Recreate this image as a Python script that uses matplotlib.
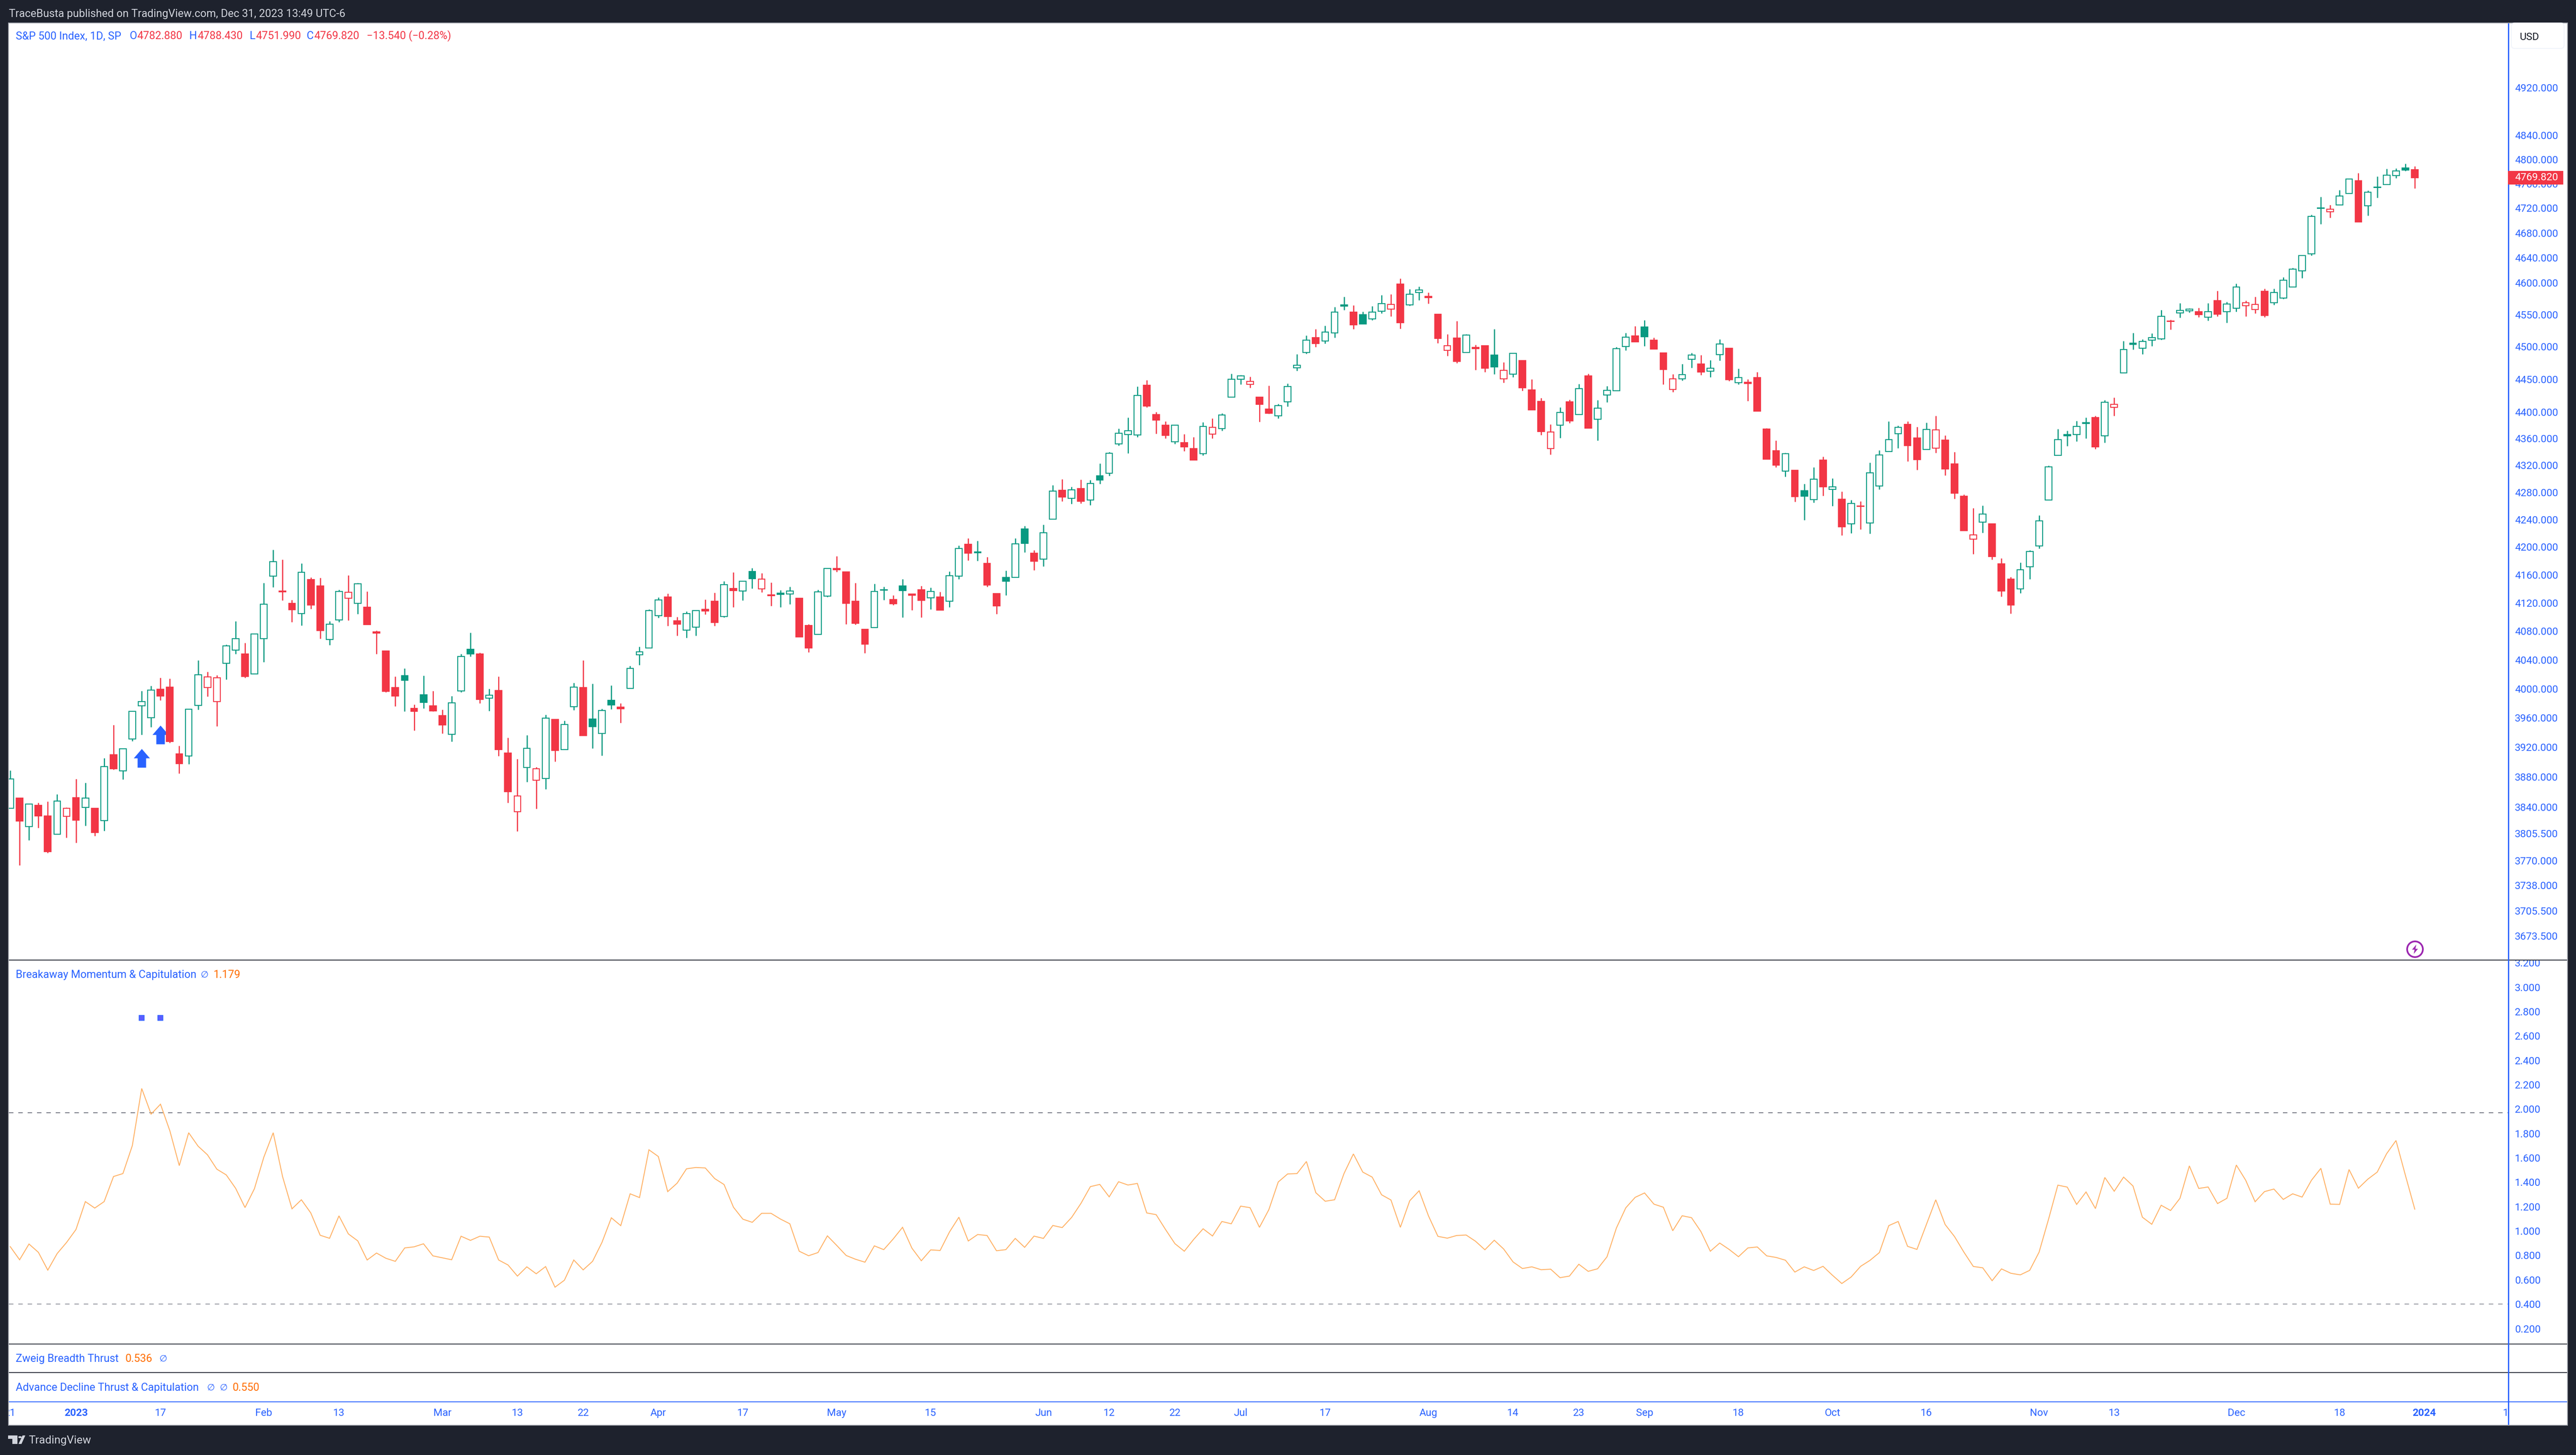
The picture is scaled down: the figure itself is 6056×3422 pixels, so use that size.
import matplotlib
matplotlib.use("Agg")
import matplotlib.pyplot as plt
import numpy as np
from matplotlib.patches import Rectangle, FancyBboxPatch, Polygon, Circle
from matplotlib.path import Path
from matplotlib.transforms import Bbox

opens = [
 3838.6,3852,3814.6,3842.6,3828.5,3804.2,3828,3852.6,3839.7,3838.6,
 3822,3910,3888,3931.3,3976.6,3959.8,3999,4002,3911.2,3908.3,
 3977.2,4001.3,3982,4035.3,4053.2,4048.3,4020,4069.3,4158,4136.7,
 4119.3,4104.7,4153.3,4144,4068,4096,4126.3,4119.3,4114,4078.7,
 4052,4001.3,4018,3972.7,3991.7,3976.6,3962.8,3937.8,3997,4054.4,
 4048,3986.8,3997.6,3912,3834,3893,3875.9,3878.2,3958,3916.6,
 3975,4001.3,3958.6,3938.4,3983.8,3974.6,4000.2,4047,4056.6,4102,
 4128.2,4094.5,4081.4,4085.7,4110.8,4122,4100.7,4140.3,4137,4164.4,
 4139.5,4131.2,4133.6,4132.2,4126.3,4088,4075.3,4129.2,4168.8,4164,
 4122,4082.8,4085,4138.2,4124.4,4143.8,4132.2,4138.5,4126.9,4128.2,
 4122.5,4157.7,4204.2,4192.8,4176.6,4133,4156,4156,4226,4191,
 4182.6,4240.5,4282.7,4270.7,4285.3,4268.5,4304,4308,4352,4365.6,
 4365,4440.6,4395.9,4379.9,4354.7,4353.7,4344.8,4336.9,4366.6,4374.5,
 4422.2,4450,4442,4422.5,4404.4,4394,4415.3,4467.2,4491,4514,
 4508.6,4521.4,4565.3,4553.9,4549.8,4543,4555,4558.4,4598.1,4565.3,
 4584.7,4578.7,4550.6,4494,4513.2,4491,4498.6,4501.5,4487.1,4450.1,
 4457.6,4478.4,4433.6,4416,4345,4380,4415.3,4396,4455,4389,
 4425.9,4432.2,4500.1,4516.7,4530.5,4510.1,4490.4,4434.2,4450.7,4480.4,
 4473.4,4461.9,4487.6,4497.5,4444.3,4445.2,4452.4,4374.2,4341.8,4310.9,
 4312.7,4282.5,4269.2,4327.8,4284,4269.8,4233.7,4259.8,4234.6,4289,
 4340.3,4367,4381.5,4360.5,4343.2,4345.6,4357.3,4321.9,4274.3,4211.2,
 4236.2,4233.3,4176,4153.5,4140,4171.5,4201.6,4268.4,4334.4,4366,
 4366,4382.7,4391.6,4364,4406.7,4459.4,4505.2,4497.6,4510.3,4511.8,
 4540,4552.8,4555.8,4554.8,4545.6,4571.7,4554.8,4559.8,4563.7,4557.7,
 4586.5,4568.6,4576.3,4593.7,4618.8,4646.4,4719.3,4714,4725.1,4744,
 4764.7,4723.4,4753.5,4758.3,4773,4785.6,4782.88]
highs = [
 3888.9,3852,3844.6,3846,3847.5,3857.3,3839.5,3877.5,3872.6,3838.6,
 3905.5,3950,3918.6,3969,3997,4003.7,4014.8,4013.6,3922.1,3971.7,
 4039,4023.4,4018.6,4061,4093.7,4063.2,4076.6,4148.3,4195.7,4181.8,
 4123.9,4176.4,4156,4155.4,4093.7,4138.4,4159.2,4148,4136,4081,
 4052,4017,4028,3978,4018,3997,3971,3990,4048,4078,
 4049.6,3999.5,4016.6,3933,3904.2,3936.6,3893.5,3964,3958,3956,
 4008.2,4039,4007,3972,4004.6,3980,4031.4,4058.4,4110.8,4127.7,
 4133,4100,4107.8,4109.2,4124.4,4134.4,4150.6,4163.3,4151.4,4169.3,
 4162.5,4148.7,4138.2,4142.8,4126.3,4089.7,4138.5,4169.8,4187,4164,
 4148,4082.8,4146.8,4142.8,4130.6,4154,4133.3,4143.8,4141.4,4135.5,
 4164.7,4202.3,4212.6,4209,4185.8,4133,4165.8,4212.6,4230.5,4195.5,
 4232.4,4290.2,4299.4,4287.7,4298.6,4297.7,4322.5,4339.5,4374.7,4391.4,
 4438.6,4448.4,4399.8,4385.7,4380,4366.4,4362,4384.5,4390,4397.9,
 4458.2,4456,4453.6,4422.5,4440,4411.8,4443.4,4488.3,4517.5,4527.3,
 4532.6,4562,4577.9,4564.7,4554.5,4563.4,4580.5,4582,4607,4590.2,
 4594,4584.7,4550.6,4519.2,4540,4519.2,4502.7,4502.1,4527.3,4476,
 4490.1,4478.4,4449.8,4421,4381,4407,4418.5,4442.3,4458,4417.8,
 4439.4,4499.5,4521.4,4532,4541.1,4514,4490.4,4457.7,4473.4,4490.4,
 4487,4478.9,4511.2,4497.5,4466,4449.8,4460.9,4375.3,4356.7,4338.4,
 4312.7,4292,4317,4332.8,4300.7,4281.1,4268.7,4266.7,4324,4342.2,
 4385.7,4379.4,4386,4377.4,4383.8,4394,4364.7,4339.8,4276.6,4256.5,
 4260.3,4233.3,4183.4,4156.7,4177.3,4195.5,4246,4319.5,4374,4371.5,
 4386.2,4391.6,4394,4418,4421.5,4508.7,4521.4,4511.4,4520.4,4557,
 4542,4567.8,4560,4560.6,4567.8,4587.5,4569.8,4598.8,4571.7,4578.2,
 4591,4591,4608.6,4623.6,4643.3,4709,4738.3,4725,4749.4,4768,
 4777.6,4748.4,4771.7,4784,4785.1,4793,4788.43]
lows = [
 3838.6,3763.6,3796.3,3812.6,3780,3804.2,3799.7,3793.3,3815.4,3802,
 3809,3889.8,3876.6,3928.3,3936.8,3947.2,3984,3926,3884.8,3897.3,
 3971,3989.4,3948.4,4012.7,4048.3,4015,4020,4036.8,4142,4123.3,
 4093,4088,4111.5,4069.6,4060.8,4092.6,4095,4104,4089.3,4048,
 3995,3976,3969,3942.8,3973,3969,3938.7,3927.7,3995,4044.7,
 3980,3969.4,3908,3845.8,3808,3873.5,3837.7,3863.7,3900.8,3916.6,
 3970.6,3935.7,3918.3,3908.6,3971.4,3952.9,4000.2,4032.6,4056.6,4099,
 4087.6,4073.5,4070.6,4073.5,4103.3,4087.6,4099.6,4113.5,4123.6,4140.6,
 4135,4115.3,4114,4118.3,4071.6,4050.3,4075.3,4128,4164.2,4090,
 4089.4,4049,4085,4124.2,4117,4099.6,4109.8,4099.6,4111,4109.8,
 4114,4153.9,4180.4,4179.9,4143,4104.4,4130.4,4156,4192.2,4166.6,
 4172,4240.5,4266.8,4263,4263.7,4261,4292,4304,4349,4338,
 4362.3,4407,4367,4360,4351.7,4341,4327.6,4334.6,4360,4371.5,
 4422.2,4442,4436.5,4385.1,4397,4390,4408.4,4463,4489.2,4499.8,
 4505,4514,4557.5,4527.4,4535.4,4541.3,4552,4547.3,4528,4564,
 4572.8,4567,4505.7,4485.5,4474.8,4491,4464.3,4461,4457.5,4444.3,
 4453.3,4432.4,4403.2,4365,4335.6,4360.5,4382.9,4396,4375.7,4356.6,
 4415,4432.2,4494,4507.3,4501,4496,4442,4430.4,4448.1,4467.2,
 4456,4452.9,4478.4,4447.3,4442,4416.8,4401,4329,4316.6,4303,
 4265.7,4239,4264.5,4274.9,4260,4217,4220.2,4225.7,4219.6,4284.3,
 4340.3,4345.2,4325.8,4313.2,4343.2,4338.3,4304.8,4270.5,4223.9,4189.5,
 4220.6,4182,4129,4105,4134,4153.5,4197.8,4268.4,4334.4,4348.5,
 4355.4,4360.2,4344.2,4353.6,4394,4459.4,4495.6,4488.5,4500.7,4510.8,
 4526.4,4545,4553.3,4546,4540.5,4547.2,4537.5,4554.8,4547.2,4551.7,
 4546,4565.4,4574.8,4593.7,4607.4,4643.3,4694,4704.6,4725.1,4744,
 4697.7,4708,4736.8,4758.3,4769,4781,4751.99]
closes = [
 3877.2,3821.4,3844,3828.2,3781.8,3847.8,3838.3,3823,3851.8,3806.8,
 3893.8,3891,3917.7,3969,3982,3998,3989.7,3927.7,3897.9,3971.7,
 4019,4016.2,4015,4059.6,4069.6,4017,4075.7,4118.3,4179,4135.8,
 4110.4,4163.2,4117,4081,4090,4136.4,4135.2,4146.8,4089.3,4077,
 3996,3989.7,4011.6,3969,3981,3969.4,3950.2,3980.5,4044.7,4047.8,
 3985.2,3991,3917,3860.2,3854.8,3918.3,3891,3959.7,3915.7,3950.7,
 4002.2,3935.7,3947.8,3970,3977.8,3972,4028,4051,4109.2,4124,
 4100.4,4090,4105,4109.2,4108.6,4091.9,4146,4137.4,4150.8,4154.4,
 4154,4130,4132,4136.8,4071.6,4056.4,4135.3,4169,4167.4,4119.3,
 4090.7,4061.6,4136.3,4138.8,4118.8,4137.4,4130.4,4123.6,4136.3,4109.8,
 4158.7,4197.6,4191.2,4191.6,4145.5,4115.3,4150.9,4204.5,4205,4179.4,
 4220.3,4281.8,4272.9,4283.2,4266.8,4293,4298,4338,4368,4371.7,
 4425,4408.8,4387.6,4364.5,4380,4347.3,4327.6,4377.8,4376.4,4395.6,
 4450,4455,4446.3,4411.3,4398,4409.2,4438.5,4471.6,4509.8,4504.5,
 4522.5,4554.2,4563.5,4534.2,4535.4,4554.2,4567,4566,4537,4581.7,
 4588.4,4576.4,4513,4501.3,4477.4,4517.8,4497.1,4466.9,4468.4,4463.7,
 4489.5,4437,4403.2,4370,4369.4,4399,4386.6,4435.4,4375.7,4405.5,
 4432.8,4497.2,4514.8,4507.3,4515.3,4496,4465,4450.7,4456.8,4486.9,
 4461.1,4466.9,4504.4,4449.3,4452.6,4443.4,4401,4329,4319.8,4337,
 4273.2,4274,4299.3,4287.8,4288,4229,4263.4,4259,4308.4,4335.4,
 4358.3,4377,4349.5,4328.2,4373.5,4373,4314.4,4278.5,4223.9,4217.3,
 4247.6,4186.1,4136.8,4117,4167,4193.6,4237.7,4317.6,4358.3,4364,
 4377.8,4383.7,4347,4414.6,4411.2,4495.6,4503.2,4508.2,4514.3,4547.2,
 4539,4556.4,4558.7,4550.2,4554.3,4550.7,4566.8,4593.7,4568.7,4566.2,
 4548.7,4585,4604,4622,4643.3,4706.3,4720.4,4718.2,4740,4767.4,
 4697.7,4746,4754.6,4774,4781,4782,4769.82]
prior_close = 3821.6

breakaway = [
 .872,.764,.893,.825,.679,.815,.906,1.012,1.241,1.188,
 1.241,1.447,1.471,1.700,2.169,1.959,2.040,1.821,1.536,1.806,
 1.696,1.625,1.507,1.460,1.350,1.192,1.347,1.605,1.806,1.445,
 1.182,1.256,1.148,.965,.940,1.124,.976,.919,.762,.819,
 .776,.751,.861,.870,.895,.796,.780,.764,.957,.923,
 .957,.950,.762,.721,.630,.706,.649,.708,.539,.596,
 .762,.681,.751,.906,1.108,1.044,1.305,1.274,1.666,1.611,
 1.323,1.392,1.510,1.521,1.517,1.430,1.381,1.195,1.097,1.071,
 1.145,1.145,1.098,1.059,.834,.797,.823,.960,.881,.799,
 .768,.744,.878,.847,.934,1.030,.859,.756,.845,.840,
 .992,1.113,.918,.971,.963,.838,.847,.939,.866,.958,
 .939,1.045,1.028,1.111,1.227,1.364,1.382,1.280,1.404,1.377,
 1.390,1.148,1.134,1.012,.896,.834,.931,1.018,.959,1.078,
 1.059,1.204,1.191,1.030,1.175,1.402,1.468,1.471,1.570,1.314,
 1.244,1.256,1.471,1.632,1.483,1.442,1.297,1.254,1.030,1.248,
 1.330,1.123,.956,.941,.963,.967,.916,.846,.924,.852,
 .746,.692,.706,.682,.687,.617,.630,.727,.669,.690,
 .788,1.024,1.190,1.276,1.312,1.220,1.195,1.002,1.125,1.109,
 .995,.834,.901,.849,.789,.861,.869,.796,.783,.760,
 .663,.706,.676,.710,.637,.569,.623,.710,.759,.823,
 1.044,1.078,.874,.849,1.053,1.256,1.053,.954,.826,.709,
 .698,.592,.689,.653,.640,.677,.826,1.094,1.376,1.360,
 1.218,1.320,1.184,1.439,1.326,1.442,1.369,1.113,1.055,1.211,
 1.168,1.268,1.534,1.349,1.361,1.225,1.268,1.541,1.416,1.240,
 1.323,1.344,1.259,1.305,1.278,1.416,1.514,1.220,1.218,1.504,
 1.351,1.425,1.483,1.634,1.742,1.457,1.179]
thrust_levels = [1.97, 0.40]
signal_index = [14, 16]
signal_level = [2.749, 2.749]
arrow_price = [3905.5, 3937.0]

price_ticks = [4920,4840,4800,4760,4720,4680,4640,4600,4550,4500,4450,4400,4360,4320,4280,4240,
               4200,4160,4120,4080,4040,4000,3960,3920,3880,3840,3805.5,3770,3738,3705.5,3673.5]
osc_ticks = [0.2,0.4,0.6,0.8,1.0,1.2,1.4,1.6,1.8,2.0,2.2,2.4,2.6,2.8,3.0,3.2]
time_index = [0,7,16,27,35,46,54,61,69,78,88,98,110,117,124,131,140,151,160,167,174,184,194,204,216,224,237,248,257,266]
time_labels = ["21","2023","17","Feb","13","Mar","13","22","Apr","17","May","15","Jun","12","22","Jul","17","Aug",
               "14","23","Sep","18","Oct","16","Nov","13","Dec","18","2024","16"]

W, H = 6056, 3422
BG = "#1E222D"; BLUE = "#2962FF"; RED = "#F23645"; GREEN = "#089981"; ORANGE = "#FF6D00"
LINE = "#2A2E39"; LIGHT = "#D1D4DC"
FONT = ["Roboto", "DejaVu Sans"]
px = 0.72  # points per pixel at dpi 100
plt.rcParams["font.family"] = FONT

fig = plt.figure(figsize=(W/100, H/100), dpi=100, facecolor=BG)

def fx(x): return x / W
def fy(y): return 1 - y / H

def add_ax(t, b, l=21, r=5899):
    a = fig.add_axes([fx(l), fy(b), (r - l) / W, (b - t) / H], facecolor="none")
    for s in a.spines.values():
        s.set_visible(False)
    return a

def rect(x0, y0, x1, y1, color, z=10, **kw):
    p = Rectangle((fx(x0), fy(y1)), (x1 - x0) / W, (y1 - y0) / H, transform=fig.transFigure,
                  facecolor=color, edgecolor="none", zorder=z, **kw)
    fig.add_artist(p)
    return p

def label(x, y, s, color, size=18.3, **kw):
    return fig.text(fx(x), fy(y), s, color=color, fontsize=size, va="center", ha=kw.pop("ha", "left"),
                    zorder=20, **kw)

# Chart surface
surf = Rectangle((fx(20), fy(3351.5)), (6035.5 - 20) / W, (3351.5 - 54) / H, transform=fig.transFigure,
                 facecolor="white", edgecolor="#A0A3AB", linewidth=2 * px, zorder=-5)
fig.add_artist(surf)

idx = np.arange(len(closes))
X0, STEP = 24.0, 22.082
xlim = ((21 - X0) / STEP, (5899 - X0) / STEP)

# ---------- price pane ----------
ax = add_ax(54, 2258)
ax.set_yscale("log")
ax.set_xlim(*xlim)
ax.set_ylim(3642.9, 5030.8)

o = np.array(opens); h = np.array(highs); l = np.array(lows); c = np.array(closes)
prev = np.r_[prior_close, c[:-1]]
colors = np.where(c >= prev, GREEN, RED)
hollow = c >= o
ax.vlines(idx, l, h, colors=colors, linewidth=2.7 * px, zorder=3)
body_w = 15.8 / STEP
ax.bar(idx, np.abs(c - o), bottom=np.minimum(o, c), width=body_w,
       facecolor=["white" if f else col for f, col in zip(hollow, colors)],
       edgecolor=colors, linewidth=2.2 * px, zorder=4)

arrow = Path([(-19, 0), (-10, 0), (-10, -22), (10, -22), (10, 0), (19, 0), (0, 22), (-19, 0)], closed=True)
ax.plot(signal_index, arrow_price, ls="none", marker=arrow, ms=44 * px, mfc=BLUE, mec="none", zorder=2)

ring_price = 3657.0
ax.plot([256], [ring_price], ls="none", marker="o", ms=37 * px, mfc="white", mec="#9C27B0", mew=4 * px,
        zorder=6, clip_on=False)
bolt = Path([(3, 11), (-7, -1), (-1, -1), (-3, -11), (7, 1), (1, 1), (3, 11)], closed=True)
ax.plot([256], [ring_price], ls="none", marker=bolt, ms=22 * px, mfc="#9C27B0", mec="none", zorder=7, clip_on=False)

ax.yaxis.tick_right()
ax.set_yticks(price_ticks, labels=[f"{p:.3f}" for p in price_ticks])
ax.set_yticks([], minor=True)
ax.tick_params(axis="y", which="both", length=0, pad=9.5, labelsize=17.5, labelcolor=BLUE)
ax.set_xticks([])

# ---------- oscillator pane ----------
ax2 = add_ax(2258, 3161)
ax2.set_xlim(*xlim)
PX_UNIT = 286.7
ax2.set_ylim(0.2 - (3161 - 3124.5) / PX_UNIT, 0.2 + (3124.5 - 2258) / PX_UNIT)
for lev, dw in zip(thrust_levels, (2.2, 1.5)):
    ax2.axhline(lev, color="#787B86", lw=dw * px, dashes=(10.5 / dw, 11.5 / dw), zorder=1)
ax2.plot(idx, breakaway, color="#FFB062", lw=2.1 * px, solid_joinstyle="miter", zorder=3)
ax2.plot(signal_index, signal_level, ls="none", marker="s", ms=12.5 * px, mfc="#5C5CFF", mec=BLUE, mew=1.5 * px, zorder=4)
ax2.yaxis.tick_right()
ax2.set_yticks(osc_ticks, labels=[f"{v:.3f}" for v in osc_ticks])
ax2.tick_params(axis="y", length=0, pad=9.5, labelsize=17.5, labelcolor=BLUE)
ax2.set_xticks([])
for t in ax2.get_yticklabels():
    t.set_clip_on(True)
    t.set_clip_box(Bbox.from_extents(5899, H - 3161, 6035, H - 2259))

# ---------- empty indicator panes and time scale ----------
ax3 = add_ax(3161, 3228)
ax3.set_xlim(*xlim); ax3.set_xticks([]); ax3.set_yticks([])
ax4 = add_ax(3228, 3297)
ax4.set_xlim(*xlim); ax4.set_yticks([])
ax4.set_xticks(time_index, labels=time_labels)
ax4.tick_params(axis="x", length=0, pad=10.5, labelsize=17.5, labelcolor=BLUE)
for t in ax4.get_xticklabels():
    t.set_clip_on(True)
    t.set_clip_box(Bbox.from_extents(21, H - 3351, 5897, H - 3297))
    if t.get_text() in ("2023", "2024"):
        t.set_fontweight("bold")

# ---------- separators ----------
rect(21, 2256.5, 6035, 2259, LINE)
rect(21, 3160, 6035, 3162, LINE)
rect(21, 3227, 6035, 3229, LINE)
rect(21, 3296, 6035, 3298, BLUE)
rect(5896, 55, 5898.5, 3351, BLUE, z=11)

# ---------- price scale badges ----------
usd = FancyBboxPatch((fx(5912), fy(106)), 108 / W, 44 / H, transform=fig.transFigure,
                     boxstyle="round,pad=0", facecolor="white", edgecolor="#F0F3FA", linewidth=2 * px, zorder=12)
usd.set_boxstyle("round", pad=8 / W, rounding_size=8 / W)
usd.set_mutation_aspect(W / H)
fig.add_artist(usd)
label(5923, 87, "USD", "#131722", size=17.5)
rect(5896, 402, 6026, 434, RED, z=13)
label(5912, 418, f"{closes[-1]:.3f}", "white", size=17.5)

# ---------- header, legends ----------
label(21, 33, "TraceBusta published on TradingView.com, Dec 31, 2023 13:49 UTC-6", LIGHT, size=18.4)
label(37, 85, "S&P 500 Index, 1D, SP", BLUE)
for lx, letter, vx, v in [(304, "O", 322, opens[-1]), (445, "H", 464, highs[-1]),
                          (587, "L", 601, lows[-1]), (721, "C", 738, closes[-1])]:
    label(lx, 85, letter, BLUE)
    label(vx, 85, f"{v:.3f}", RED)
label(862, 85, "−13.540 (−0.28%)", RED)

label(37, 2293, "Breakaway Momentum & Capitulation", BLUE)
label(471, 2293, "∅", BLUE, size=15)
label(502, 2293, f"{breakaway[-1]:.3f}", ORANGE)
label(37, 3196, "Zweig Breadth Thrust", BLUE)
label(295, 3196, "0.536", ORANGE)
label(374, 3196, "∅", BLUE, size=15)
label(37, 3264, "Advance Decline Thrust & Capitulation", BLUE)
label(486, 3264, "∅", BLUE, size=15)
label(516, 3264, "∅", BLUE, size=15)
label(547, 3264, "0.550", ORANGE)

# ---------- footer logo ----------
def poly(pts, color=LIGHT):
    fig.add_artist(Polygon([(fx(x), fy(y)) for x, y in pts], closed=True, transform=fig.transFigure,
                           facecolor=color, edgecolor="none", zorder=12))
poly([(19, 3376), (41, 3376), (41, 3396), (29, 3396), (29, 3384), (19, 3384)])
poly([(53, 3376), (59.5, 3376), (50.5, 3396), (43.5, 3396)])
fig.add_artist(Circle((fx(47), fy(3380)), 4 / W, transform=fig.transFigure, facecolor=LIGHT, edgecolor="none", zorder=12))
label(67, 3388, "TradingView", LIGHT, size=19)

fig.savefig("out.png", dpi=100, facecolor=BG)
